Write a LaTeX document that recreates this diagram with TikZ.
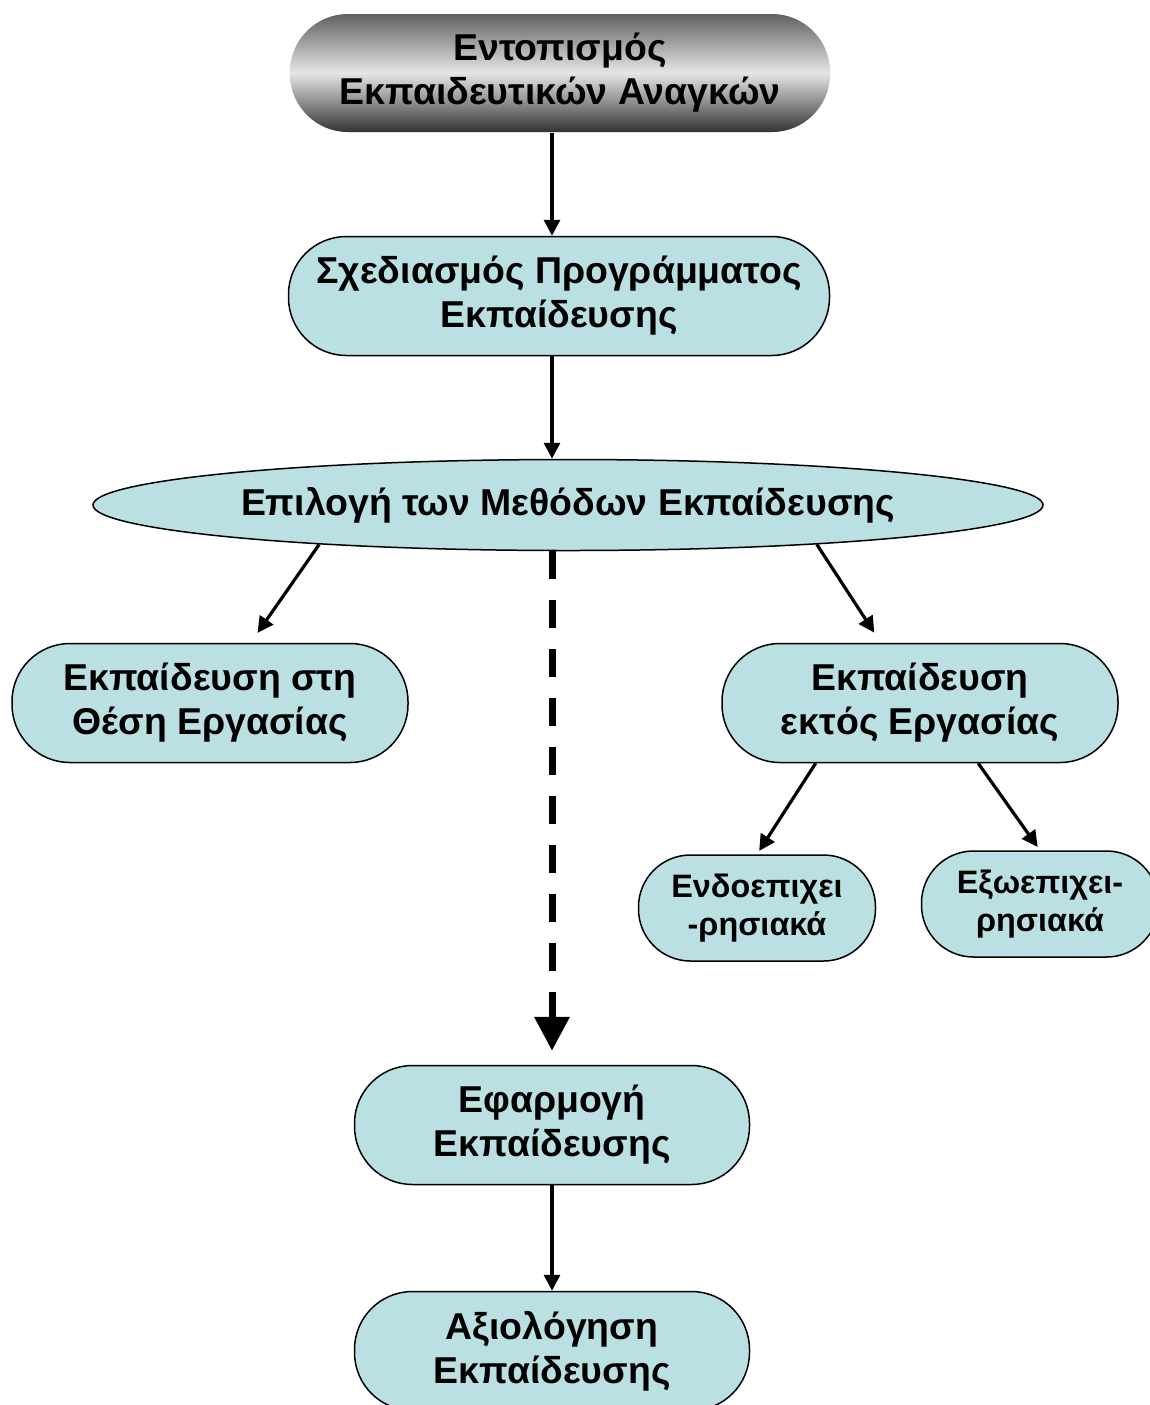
\documentclass[tikz,border=0pt]{standalone}
\usepackage{fontspec}
\setmainfont{Liberation Sans}
\usetikzlibrary{arrows.meta,shapes.geometric}

\definecolor{boxfill}{RGB}{187,224,227}

\tikzset{every picture/.style={line width=0.75pt}}
\tikzset{
  stage/.style={draw=black, fill=boxfill, rounded corners=29pt, inner sep=0pt,
    minimum width=198pt, minimum height=59.5pt, align=center,
    font=\fontsize{18.7}{22}\selectfont\bfseries},
  smallstage/.style={stage, rounded corners=26pt, minimum width=118.5pt, minimum height=53pt,
    font=\fontsize{16.2}{19}\selectfont\bfseries},
  flow/.style={line width=1.6pt, -{Triangle[length=8pt,width=8pt]}},
  bigflow/.style={line width=3.5pt, dash pattern=on 14pt off 10.5pt, -{Triangle[length=17pt,width=17pt]}}
}

\begin{document}
\begin{tikzpicture}[x=0.5pt,y=0.5pt,yscale=-1,xscale=1]
\useasboundingbox (0,0) rectangle (1150,1405);
\clip (0,0) rectangle (1150,1405);

% Text Node
\node [stage, draw=none, minimum width=270pt, minimum height=59pt, top color=black!62, bottom color=black!80, middle color=black!10] (needs) at (560,73) {Εντοπισμός\\Εκπαιδευτικών Αναγκών};
% Text Node
\node [stage, minimum width=270.5pt] (design) at (559,296) {Σχεδιασμός Προγράμματος\\Εκπαίδευσης};
% Text Node
\node [stage, ellipse, minimum width=475pt, minimum height=45.5pt] (methods) at (568,505) {Επιλογή των Μεθόδων Εκπαίδευσης};
% Text Node
\node [stage] (onjob) at (210,703) {Εκπαίδευση στη\\Θέση Εργασίας};
% Text Node
\node [stage] (offjob) at (920,703) {Εκπαίδευση\\εκτός Εργασίας};
% Text Node
\node [smallstage] (inhouse) at (757,908) {Ενδοεπιχει\\-ρησιακά};
% Text Node
\node [smallstage] (outhouse) at (1040,904) {Εξωεπιχει-\\ρησιακά};
% Text Node
\node [stage, minimum width=197.5pt] (apply) at (552,1125) {Εφαρμογή\\Εκπαίδευσης};
% Text Node
\node [stage, minimum width=197.5pt] (assess) at (552,1351) {Αξιολόγηση\\Εκπαίδευσης};

% Connection
\draw [flow] (needs.south -| apply.north) -- (design.north -| apply.north);
% Connection
\draw [flow] (design.south -| apply.north) -- (methods.north -| apply.north);
% Connection
\draw [flow, shorten >=6pt] (methods.189) -- (onjob.56);
% Connection
\draw [flow, shorten >=6pt] (methods.-9.4) -- (offjob.123);
% Connection
\draw [bigflow, shorten >=7pt] (methods.south -| apply.north) -- (apply.north);
% Connection
\draw [flow, shorten >=2pt] (offjob.210) -- (inhouse.north);
% Connection
\draw [flow, shorten >=2pt] (offjob.-46) -- (outhouse.north);
% Connection
\draw [flow] (apply) -- (assess);

\end{tikzpicture}
\end{document}
